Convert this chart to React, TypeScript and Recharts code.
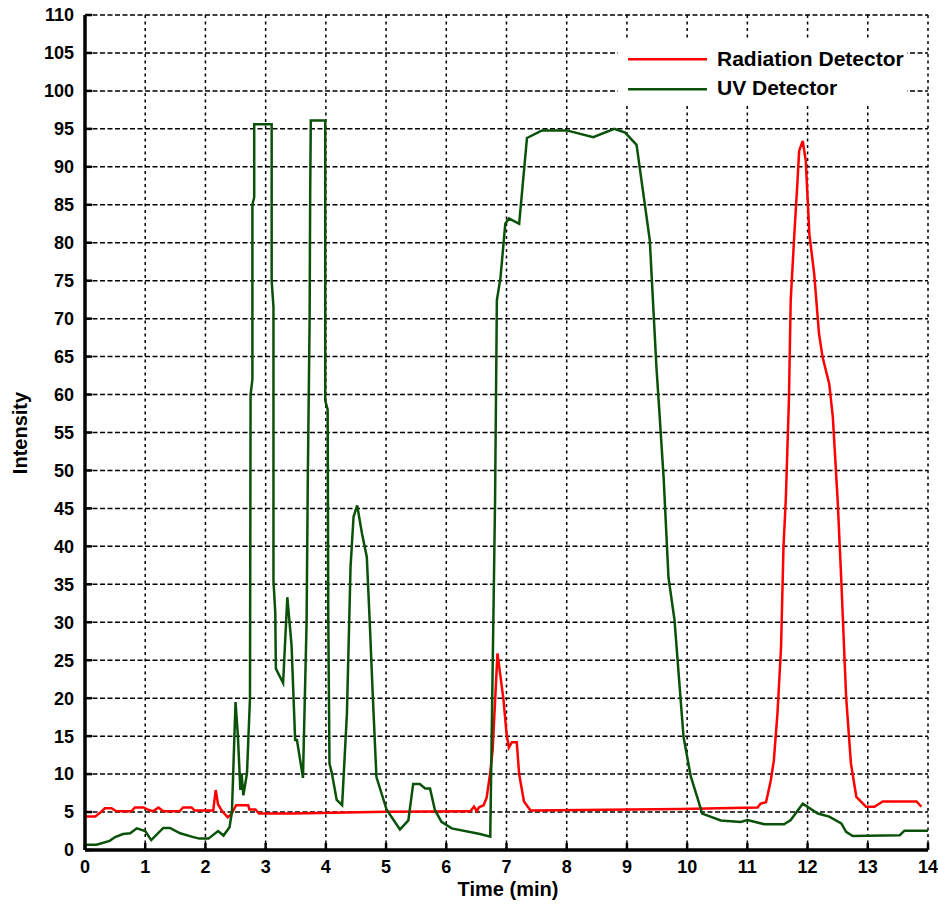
import React from 'react';
import { LineChart, Line, XAxis, YAxis, CartesianGrid, Legend } from 'recharts';

const xTicks = [0, 1, 2, 3, 4, 5, 6, 7, 8, 9, 10, 11, 12, 13, 14];
const yTicks = [0, 5, 10, 15, 20, 25, 30, 35, 40, 45, 50, 55, 60, 65, 70, 75, 80, 85, 90, 95, 100, 105, 110];

const uvTime = [
  0, 0.19, 0.41, 0.5, 0.63, 0.75, 0.86, 1.0, 1.1, 1.3, 1.41, 1.58, 1.8, 1.9, 2.05, 2.21, 2.3, 2.4, 2.44,
  2.5, 2.54, 2.58, 2.6, 2.63, 2.69, 2.74, 2.75, 2.78, 2.78, 2.81, 2.81, 3.1, 3.1, 3.13, 3.13, 3.16, 3.17,
  3.29, 3.36, 3.43, 3.49, 3.52, 3.62, 3.68, 3.7, 3.73, 3.74, 3.75, 3.99, 3.99, 4.03, 4.04, 4.06, 4.1,
  4.18, 4.27, 4.35, 4.41, 4.46, 4.52, 4.6, 4.68, 4.73, 4.78, 4.84, 5.01, 5.23, 5.37, 5.45, 5.56, 5.65,
  5.73, 5.81, 5.92, 6.09, 6.56, 6.73, 6.81, 6.84, 6.9, 6.98, 7.04, 7.21, 7.34, 7.59, 8.0, 8.44, 8.79,
  8.97, 9.16, 9.38, 9.49, 9.53, 9.61, 9.69, 9.79, 9.89, 9.94, 10.06, 10.17, 10.25, 10.56, 10.89, 11.0,
  11.28, 11.61, 11.72, 11.92, 12.17, 12.36, 12.56, 12.64, 12.75, 13.53, 13.61, 14.0,
];
const uvIntensity = [
  0.7, 0.7, 1.2, 1.7, 2.1, 2.2, 2.85, 2.5, 1.3, 2.9, 2.9, 2.2, 1.7, 1.5, 1.5, 2.5, 1.9, 3.0, 5.0,
  19.5, 14.9, 7.9, 10.1, 7.2, 10.1, 20, 60, 62, 85, 86, 95.6, 95.6, 75, 71.5, 35.5, 31.2, 23.9,
  22, 33.3, 27, 14.5, 14.5, 9.5, 30, 48.7, 69.7, 86.8, 96.1, 96.1, 59.2, 58, 31, 11.4, 10.1,
  6.6, 5.9, 18, 37.3, 43.9, 45.4, 41.7, 38.6, 29.8, 20.2, 9.6, 5.3, 2.7, 3.9, 8.7, 8.7, 8.1,
  8.1, 5.3, 3.7, 2.85, 2.1, 1.75, 46, 72.4, 75.4, 82.5, 83.2, 82.5, 93.8, 94.8, 94.8, 93.9, 95,
  94.5, 92.9, 80.3, 63.6, 58.8, 49, 35.9, 30.3, 20, 14.9, 9.7, 6.9, 4.8, 3.9, 3.7, 3.95,
  3.4, 3.4, 3.95, 6.1, 4.8, 4.4, 3.5, 2.4, 1.85, 1.95, 2.55, 2.55,
];

const radTime = [
  0, 0.17, 0.25, 0.33, 0.44, 0.52, 0.77, 0.83, 0.97, 1.05, 1.13, 1.22, 1.3, 1.57, 1.63, 1.77, 1.82,
  2.13, 2.17, 2.21, 2.28, 2.37, 2.43, 2.51, 2.71, 2.73, 2.83, 2.89, 3.46, 5.0, 6.37, 6.4, 6.46, 6.51,
  6.54, 6.62, 6.67, 6.73, 6.77, 6.85, 6.95, 7.0, 7.04, 7.09, 7.17, 7.21, 7.29, 7.4, 9.89, 11.17,
  11.22, 11.31, 11.39, 11.44, 11.5, 11.56, 11.6, 11.64, 11.69, 11.72, 11.78, 11.83, 11.86, 11.92,
  11.97, 12.03, 12.11, 12.19, 12.25, 12.36, 12.42, 12.5, 12.56, 12.64, 12.72, 12.81, 12.97, 13.11,
  13.25, 13.81, 13.89,
];
const radIntensity = [
  4.4, 4.4, 4.9, 5.5, 5.5, 5.1, 5.1, 5.6, 5.6, 5.3, 5.1, 5.6, 5.1, 5.1, 5.6, 5.6, 5.2,
  5.2, 7.9, 6.0, 5.1, 4.3, 4.7, 5.9, 5.9, 5.35, 5.35, 4.8, 4.8, 5.05, 5.1, 5.1, 5.7, 5.1,
  5.6, 5.9, 6.9, 10.2, 13.2, 25.9, 19.8, 15.4, 13.5, 14.2, 14.2, 10, 6.4, 5.2, 5.4, 5.6,
  6.1, 6.3, 9.2, 11.8, 18, 26.8, 39.9, 46.5, 59.2, 72.4, 81.1, 87.7, 92.1, 93.4,
  90.8, 81.1, 75.9, 68, 64.9, 61.4, 57, 46, 35.5, 20.2, 11.4, 7, 5.7, 5.7,
  6.4, 6.4, 5.7,
];

const seriesNames = ['Radiation Detector', 'UV Detector'];
const RED = '#ff0000';
const GREEN = '#0a520a';
const FONT = '"Liberation Sans", Arial, Helvetica, sans-serif';

const uvData = uvTime.map((t, i) => ({ t, v: uvIntensity[i] }));
const radData = radTime.map((t, i) => ({ t, v: radIntensity[i] }));

const tickStyle = { fill: '#000', fontSize: 18, fontWeight: 'bold', fontFamily: FONT };
const axisLineStyle = { stroke: '#000', strokeWidth: 3.5 };
const tickLineStyle = { stroke: '#000', strokeWidth: 2.5 };

const LegendBox = () => (
  <svg width={289} height={65} style={{ display: 'block' }}>
    <line x1={10} x2={89} y1={19.3} y2={19.3} stroke={RED} strokeWidth={2.5} />
    <text x={99} y={26} fontSize={21} fontWeight="bold" fontFamily={FONT} fill="#000">
      {seriesNames[0]}
    </text>
    <line x1={10} x2={89} y1={49.3} y2={49.3} stroke={GREEN} strokeWidth={2.5} />
    <text x={99} y={55} fontSize={21} fontWeight="bold" fontFamily={FONT} fill="#000">
      {seriesNames[1]}
    </text>
  </svg>
);

export default function App() {
  return (
    <div style={{ position: 'absolute', left: 0, top: 0, width: 938, height: 905, background: '#fff' }}>
      <LineChart width={938} height={905} margin={{ top: 15, right: 10, bottom: 0, left: 0 }}>
        <CartesianGrid
          xAxisId="bottom"
          yAxisId="left"
          horizontal={true}
          vertical={false}
          stroke="#000"
          strokeWidth={1.5}
          strokeDasharray="5 2.5"
        />
        <CartesianGrid
          xAxisId="bottom"
          yAxisId="left"
          horizontal={false}
          vertical={true}
          stroke="#000"
          strokeWidth={1.5}
          strokeDasharray="3 3.5"
        />
        <XAxis
          xAxisId="bottom"
          dataKey="t"
          type="number"
          domain={[0, 14]}
          ticks={xTicks}
          allowDataOverflow
          height={55}
          tickSize={-7}
          tickMargin={17}
          tick={tickStyle}
          axisLine={axisLineStyle}
          tickLine={tickLineStyle}
          label={() => (
            <text x={508} y={896} textAnchor="middle" fontSize={20} fontWeight="bold" fontFamily={FONT} fill="#000">
              Time (min)
            </text>
          )}
        />
        <XAxis
          xAxisId="top"
          orientation="top"
          dataKey="t"
          type="number"
          domain={[0, 14]}
          ticks={xTicks}
          allowDataOverflow
          height={0}
          tickSize={-7}
          tickFormatter={() => ''}
          axisLine={axisLineStyle}
          tickLine={tickLineStyle}
        />
        <YAxis
          yAxisId="left"
          type="number"
          domain={[0, 110]}
          ticks={yTicks}
          allowDataOverflow
          width={85}
          tickSize={-7}
          tickMargin={18}
          tick={tickStyle}
          axisLine={axisLineStyle}
          tickLine={tickLineStyle}
          label={() => (
            <text
              x={27}
              y={433}
              transform="rotate(-90 27 433)"
              textAnchor="middle"
              fontSize={20}
              fontWeight="bold"
              fontFamily={FONT}
              fill="#000"
            >
              Intensity
            </text>
          )}
        />
        <YAxis
          yAxisId="right"
          orientation="right"
          type="number"
          domain={[0, 110]}
          ticks={yTicks}
          allowDataOverflow
          width={0}
          tickSize={-7}
          tickFormatter={() => ''}
          axisLine={axisLineStyle}
          tickLine={tickLineStyle}
        />
        <Line
          xAxisId="bottom"
          yAxisId="left"
          data={radData}
          dataKey="v"
          name={seriesNames[0]}
          type="linear"
          stroke={RED}
          strokeWidth={2.5}
          dot={false}
          activeDot={false}
          isAnimationActive={false}
        />
        <Line
          xAxisId="bottom"
          yAxisId="left"
          data={uvData}
          dataKey="v"
          name={seriesNames[1]}
          type="linear"
          stroke={GREEN}
          strokeWidth={2.5}
          dot={false}
          activeDot={false}
          isAnimationActive={false}
        />
        <Legend
          layout="vertical"
          align="center"
          verticalAlign="middle"
          content={() => <LegendBox />}
          wrapperStyle={{ position: 'absolute', left: 618, top: 40, width: 289, height: 65, background: '#fff' }}
        />
      </LineChart>
    </div>
  );
}
